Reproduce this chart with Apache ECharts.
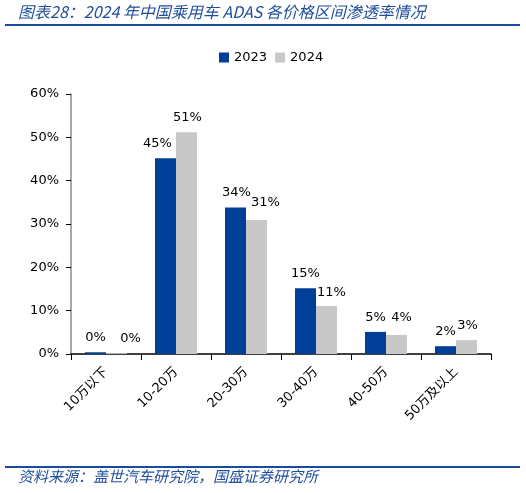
<!DOCTYPE html>
<html><head><meta charset="utf-8">
<script src="https://cdn.jsdelivr.net/npm/echarts@6/dist/echarts.min.js"></script>
<style>html,body{margin:0;padding:0;background:#fff}#c{width:526px;height:493px}</style>
</head><body><div id="c"></div>
<script>
const categories = ['10万以下','10-20万','20-30万','30-40万','40-50万','50万及以上'];
const s2023 = [0.4, 45.2, 33.8, 15.2, 5.1, 1.8];
const s2024 = [0.2, 51.2, 30.9, 11.1, 4.4, 3.2];
const yTicks = [0, 10, 20, 30, 40, 50, 60];
const seriesNames = ['2023','2024'];
const titleText = '图表28：2024 年中国乘用车 ADAS 各价格区间渗透率情况';
const sourceText = '资料来源：盖世汽车研究院，国盛证券研究所';

// label nudges (style only), mimicking the reference's label placement
const off2023 = [[0,0],[-8,0],[1,0],[0,0],[0,0],[0,0]];
const off2024 = [[14,0],[1,0],[9,-3],[5,1],[5,-3],[1,0]];

const chart = echarts.init(document.getElementById('c'));
const lblFont = 'DejaVu Sans, Noto Sans CJK SC, sans-serif';
const lbl = {show:true, position:'top', distance:8, color:'#000', fontSize:13, fontFamily:lblFont,
  formatter: p => Math.round(p.value) + '%'};
const mk = (vals, offs) => vals.map((v,i) => ({value:v, label:{offset:offs[i]}}));
chart.setOption({
  animation:false,
  graphic:[
    {type:'text', left:18, top:4, style:{text:titleText, fill:'#1f4e9c', font:'italic 16px "Noto Sans CJK SC", sans-serif'}},
    {type:'rect', shape:{x:5, y:24, width:515, height:2}, style:{fill:'#1a4b9b'}},
    {type:'rect', shape:{x:5, y:466, width:515, height:2}, style:{fill:'#1a4b9b'}},
    {type:'text', left:18, top:469, style:{text:sourceText, fill:'#1f4e9c', font:'italic 15px "Noto Sans CJK SC", sans-serif'}}
  ],
  legend:{top:46, left:214, itemWidth:10, itemHeight:10, itemGap:8, icon:'rect',
    textStyle:{fontSize:13, color:'#000', fontFamily:lblFont}, data:seriesNames},
  grid:{left:71, right:35, top:94, bottom:139},
  xAxis:{type:'category', data:categories,
    axisLine:{lineStyle:{color:'#000', width:1.5}},
    axisTick:{show:true, alignWithLabel:false, length:6, lineStyle:{color:'#000'}},
    axisLabel:{rotate:45, color:'#000', fontSize:13, fontFamily:lblFont, interval:0, margin:16}},
  yAxis:{type:'value', min:0, max:60, interval:10,
    axisLine:{show:true, lineStyle:{color:'#888', width:1.5}},
    axisTick:{show:true, inside:false, length:5, lineStyle:{color:'#000'}},
    splitLine:{show:false},
    axisLabel:{color:'#000', fontSize:13, fontFamily:lblFont, margin:12,
      formatter: v => yTicks.includes(v) ? v + '%' : ''}},
  series:[
    {name:seriesNames[0], type:'bar', data:mk(s2023, off2023), barWidth:21, barGap:'0%', itemStyle:{color:'#003f98'}, label:lbl},
    {name:seriesNames[1], type:'bar', data:mk(s2024, off2024), barWidth:21, itemStyle:{color:'#c8c8c8'}, label:lbl}
  ]
});
</script></body></html>
